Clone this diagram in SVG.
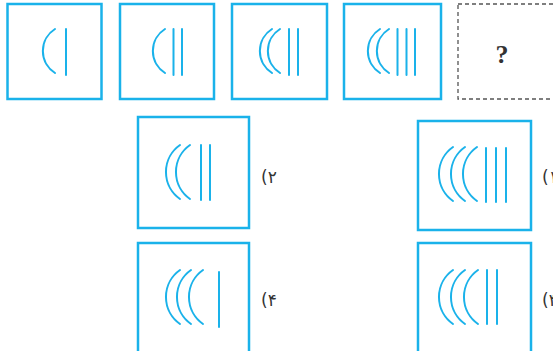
<svg xmlns="http://www.w3.org/2000/svg" xmlns:xlink="http://www.w3.org/1999/xlink" width="553" height="351" viewBox="0 0 553 351">
<style>
.box{fill:none;stroke:#1ab2ea;stroke-width:2.5}
.dash{fill:none;stroke:#555;stroke-width:1.3;stroke-dasharray:4,3}
.ln{fill:none;stroke:#1ab2ea;stroke-width:2;stroke-linecap:round}
.lbl{font-family:"DejaVu Sans",sans-serif;font-size:17px;fill:#333}
.q{font-family:"Liberation Serif",serif;font-weight:bold;font-size:26px;fill:#333}
</style>
<defs>
<path id="a1" class="ln" d="M0,0 A26,26 0 0 0 0,44"/>
<path id="a2" class="ln" d="M0,0 A33,33 0 0 0 0,54"/>
</defs>
<rect width="553" height="351" fill="#fff"/>
<g id="f1">
<rect class="box" x="7.5" y="4" width="94" height="95"/>
<use xlink:href="#a1" x="55" y="29"/>
<line class="ln" x1="66" y1="29" x2="66" y2="75"/>
</g>
<g id="f2">
<rect class="box" x="120" y="4" width="94" height="95"/>
<use xlink:href="#a1" x="165" y="29"/>
<line class="ln" x1="173.5" y1="29" x2="173.5" y2="75"/>
<line class="ln" x1="182" y1="29" x2="182" y2="75"/>
</g>
<g id="f3">
<rect class="box" x="232" y="4" width="95" height="95"/>
<use xlink:href="#a1" x="272" y="29"/>
<use xlink:href="#a1" x="280" y="29"/>
<line class="ln" x1="289" y1="29" x2="289" y2="75"/>
<line class="ln" x1="298" y1="29" x2="298" y2="75"/>
</g>
<g id="f4">
<rect class="box" x="344" y="4" width="97" height="95"/>
<use xlink:href="#a1" x="380" y="29"/>
<use xlink:href="#a1" x="389" y="29"/>
<line class="ln" x1="397.5" y1="29" x2="397.5" y2="75"/>
<line class="ln" x1="406.5" y1="29" x2="406.5" y2="75"/>
<line class="ln" x1="415" y1="29" x2="415" y2="75"/>
</g>
<g id="f5">
<rect class="dash" x="458" y="4" width="100" height="95"/>
<text class="q" x="502" y="63" text-anchor="middle">?</text>
</g>
<g id="opt2">
<rect class="box" x="138" y="117" width="111" height="111"/>
<use xlink:href="#a2" x="180" y="145"/>
<use xlink:href="#a2" x="190" y="145"/>
<line class="ln" x1="201" y1="145" x2="201" y2="200"/>
<line class="ln" x1="210" y1="145" x2="210" y2="200"/>
<text class="lbl" x="261" y="183">(۲</text>
</g>
<g id="opt1">
<rect class="box" x="418" y="121" width="113" height="109"/>
<use xlink:href="#a2" x="453" y="147"/>
<use xlink:href="#a2" x="465" y="147"/>
<use xlink:href="#a2" x="477" y="147"/>
<line class="ln" x1="486" y1="148" x2="486" y2="202"/>
<line class="ln" x1="496" y1="148" x2="496" y2="202"/>
<line class="ln" x1="506" y1="148" x2="506" y2="202"/>
<text class="lbl" x="542" y="183">(۱</text>
</g>
<g id="opt4">
<rect class="box" x="138" y="243" width="111" height="120"/>
<use xlink:href="#a2" x="180" y="270"/>
<use xlink:href="#a2" x="191" y="270"/>
<use xlink:href="#a2" x="203" y="270"/>
<line class="ln" x1="219" y1="272" x2="219" y2="327"/>
<text class="lbl" x="261" y="306">(۴</text>
</g>
<g id="opt3">
<rect class="box" x="418" y="243" width="113" height="120"/>
<use xlink:href="#a2" x="453" y="270"/>
<use xlink:href="#a2" x="465" y="270"/>
<use xlink:href="#a2" x="478" y="270"/>
<line class="ln" x1="487" y1="270" x2="487" y2="324"/>
<line class="ln" x1="497" y1="270" x2="497" y2="324"/>
<text class="lbl" x="542" y="306">(۳</text>
</g>
<g id="connectors"/>
</svg>
